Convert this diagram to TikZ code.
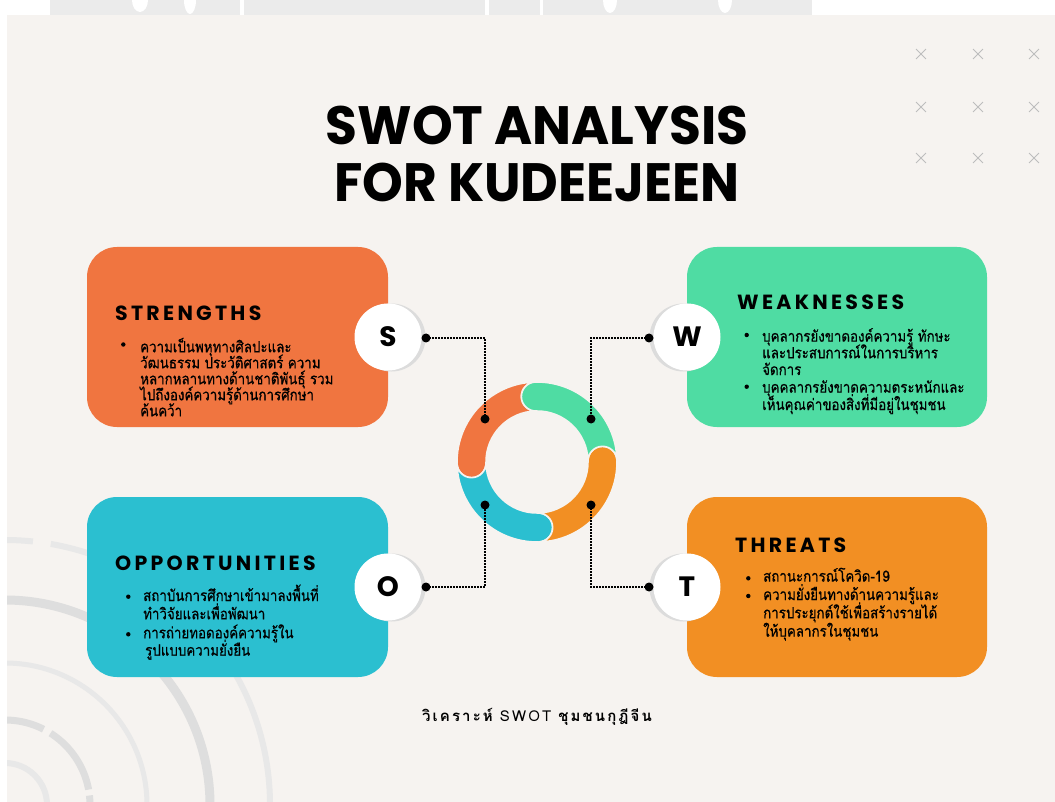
\documentclass[tikz,border=0pt]{standalone}
\usepackage{fontspec}
\setmainfont{Poppins}
\newfontfamily\thai[Script=Thai,FakeStretch=0.86,FakeBold=0.6]{Loma}
\newfontfamily\thaisp[Script=Thai,LetterSpace=14]{Loma}
\newfontfamily\headfont[LetterSpace=16]{Poppins}
\newfontfamily\titlefont{Poppins}
\usetikzlibrary{calc,shapes.misc}
\definecolor{bg}{HTML}{F6F3F0}
\definecolor{corange}{HTML}{F07540}
\definecolor{cgreen}{HTML}{4FDCA3}
\definecolor{ccyan}{HTML}{2BBFD0}
\definecolor{corangeb}{HTML}{F28F23}
\definecolor{decoA}{HTML}{DEDEDE}
\definecolor{decoB}{HTML}{E8E8E8}
\definecolor{xgray}{HTML}{BDBDBD}
\definecolor{shad}{HTML}{DCDCDC}
\definecolor{wm}{HTML}{EBEBEB}
\tikzset{
  swotbox/.style={rounded corners=30pt},
  lc/.style={circle,fill=white,minimum size=67pt,inner sep=0pt,font=\bfseries\fontsize{28}{28}\selectfont},
  head/.style={anchor=base west,inner sep=0pt,font=\headfont\bfseries\fontsize{20.5}{21}\selectfont},
  tline/.style={anchor=base west,inner sep=0pt,font=\thai\fontsize{15.5}{15.5}\selectfont},
  conn/.style={line width=1.6pt,dash pattern=on 1.6pt off 1.4pt},
  xmk/.style={draw=xgray,cross out,minimum size=9pt,inner sep=0pt,line width=0.9pt},
  titl/.style={anchor=base,inner sep=0pt,font=\titlefont\bfseries\fontsize{54}{56}\selectfont},
}
\newcommand\ringseg[3]{%
  \fill[#1,draw=bg,line width=1.6pt] ($(ringc)+(-#2:80)$)
    arc[start angle=-#2,end angle=-#2-180,radius=14.5]
    arc[start angle=-#2,end angle=-#3,radius=51]
    arc[start angle=-#3-180,end angle=-#3,radius=14.5]
    arc[start angle=-#3,end angle=-#2,radius=80] -- cycle;}
\begin{document}
\begin{tikzpicture}[x=1pt,y=-1pt]
\useasboundingbox (0,0) rectangle (1055,802);
\fill[white] (0,0) rectangle (1055,802);
% faint watermark above the card
\fill[wm] (50,0) rectangle (812,15);
\fill[white] (140,0) ellipse (8pt and 12pt);
\fill[white] (190,0) ellipse (6pt and 14pt);
\fill[white] (240,0) rectangle (244,15);
\fill[white] (485,0) rectangle (489,15);
\fill[white] (540,0) rectangle (543,15);
\fill[white] (610,0) ellipse (7pt and 13pt);
\fill[white] (725,0) ellipse (7pt and 13pt);
% card
\fill[bg] (7,15) rectangle (1055,802);
% decorative arcs
\begin{scope}
\clip (7,15) rectangle (1055,802);
\coordinate (dc) at (5,805);
\draw[decoB,line width=6pt] ($(dc)+(-90:42)$) arc[start angle=-90,end angle=0,radius=42];
\draw[decoA,line width=7pt,dash pattern=on 40pt off 8pt on 70pt off 6pt] ($(dc)+(-90:85)$) arc[start angle=-90,end angle=0,radius=85];
\draw[decoB,line width=5pt] ($(dc)+(-90:142)$) arc[start angle=-90,end angle=0,radius=142];
\draw[decoA,line width=9pt,dash pattern=on 150pt off 3pt on 200pt off 3pt] ($(dc)+(-90:205)$) arc[start angle=-90,end angle=0,radius=205];
\draw[decoB,line width=6pt,dash pattern=on 28pt off 18pt on 200pt off 6pt on 200pt off 6pt] ($(dc)+(-90:265)$) arc[start angle=-90,end angle=0,radius=265];
\end{scope}
% crosses
\foreach \cx/\cy [count=\i] in {921/54,978/54,1034/54,921/107,978/107,1034/107,921/158,978/158,1034/158}
  \node[xmk] (x\i) at (\cx,\cy) {};
% title
\node[titl] (title1) at (537,145) {\scalebox{0.96}[1]{SWOT ANALYSIS}};
\node[titl] (title2) at (537,202) {\scalebox{0.96}[1]{FOR KUDEEJEEN}};
% boxes
\fill[corange,swotbox] (87,247) rectangle (388,427);
\fill[cgreen,swotbox] (687,247) rectangle (987,427);
\fill[ccyan,swotbox] (87,497) rectangle (388,677);
\fill[corangeb,swotbox] (687,497) rectangle (987,677);
% headings
\node[head] (sh) at (115,320) {STRENGTHS};
\node[head] (wh) at (737,310) {WEAKNESSES};
\node[head] (oh) at (115,570) {OPPORTUNITIES};
\node[head] (th) at (735,552) {THREATS};
% S text
\fill (123.3,344.5) circle (2.2pt);
\node[tline] (s1) at (140,352.3) {ความเป็นพหุทางศิลปะและ};
\node[tline] (s2) at (140,368.3) {วัฒนธรรม ประวัติศาสตร์ ความ};
\node[tline] (s3) at (140,384.3) {หลากหลานทางด้านชาติพันธุ์ รวม};
\node[tline] (s4) at (140,400.3) {ไปถึงองค์ความรู้ด้านการศึกษา};
\node[tline] (s5) at (140,416.3) {ค้นคว้า};
% W text
\fill (746.7,335) circle (2.2pt);
\fill (746.7,386.7) circle (2.2pt);
\node[tline] (w1) at (762,341.7) {บุคลากรยังขาดองค์ความรู้ ทักษะ};
\node[tline] (w2) at (762,358.3) {และประสบการณ์ในการบริหาร};
\node[tline] (w3) at (762,375) {จัดการ};
\node[tline] (w4) at (762,392.7) {บุคคลากรยังขาดความตระหนักและ};
\node[tline] (w5) at (762,410) {เห็นคุณค่าของสิ่งที่มีอยู่ในชุมชน};
% O text
\fill (128.3,596.7) circle (2.2pt);
\fill (128.3,634.3) circle (2.2pt);
\node[tline] (o1) at (143,601) {สถาบันการศึกษาเข้ามาลงพื้นที่};
\node[tline] (o2) at (143,619.3) {ทำวิจัยและเพื่อพัฒนา};
\node[tline] (o3) at (143,638.3) {การถ่ายทอดองค์ความรู้ใน};
\node[tline] (o4) at (145,655.7) {รูปแบบความยั่งยืน};
% T text
\fill (748.3,578.3) circle (2.2pt);
\fill (748.3,596) circle (2.2pt);
\node[tline] (t1) at (763,581.7) {สถานะการณ์โควิด-19};
\node[tline] (t2) at (763,600) {ความยั่งยืนทางด้านความรู้และ};
\node[tline] (t3) at (763,618.3) {การประยุกต์ใช้เพื่อสร้างรายได้};
\node[tline] (t4) at (763,636.7) {ให้บุคลากรในชุมชน};
% ring
\coordinate (ringc) at (537,462);
\ringseg{corange}{91}{181}
\ringseg{ccyan}{181}{271}
\ringseg{corangeb}{271}{361}
\ringseg{cgreen}{1}{91}
% letter circles
\coordinate (scp) at (388,337);
\coordinate (wcp) at (687,337);
\coordinate (ocp) at (388,587);
\coordinate (tcp) at (687,587);
\fill[shad] ($(scp)+(3.5,0.5)$) circle (34pt);
\fill[shad] ($(wcp)+(-3.5,0.5)$) circle (34pt);
\fill[shad] ($(ocp)+(3.5,0.5)$) circle (34pt);
\fill[shad] ($(tcp)+(-3.5,0.5)$) circle (34pt);
\node[lc] (sc) at (scp) {S};
\node[lc] (wc) at (wcp) {W};
\node[lc] (oc) at (ocp) {O};
\node[lc] (tc) at (tcp) {T};
% connectors
\coordinate (sdot) at (426,338);
\coordinate (scor) at (485,338);
\coordinate (sin) at (485,419);
\coordinate (wdot) at (649,338);
\coordinate (wcor) at (591,338);
\coordinate (win) at (591,419);
\coordinate (odot) at (426,587);
\coordinate (ocor) at (485,587);
\coordinate (oin) at (485,505);
\coordinate (tdot) at (649,587);
\coordinate (tcor) at (591,587);
\coordinate (tin) at (591,505);
\draw[conn] (sdot) -- (scor) -- (sin);
\draw[conn] (wdot) -- (wcor) -- (win);
\draw[conn] (odot) -- (ocor) -- (oin);
\draw[conn] (tdot) -- (tcor) -- (tin);
\foreach \p in {sdot,sin,wdot,win,odot,oin,tdot,tin}
  \fill (\p) circle (4.5pt);
% caption
\node[anchor=base,inner sep=0pt,font=\thaisp\bfseries\fontsize{15}{15}\selectfont] (cap) at (537,721) {วิเคราะห์ {\mdseries SWOT} ชุมชนกุฎีจีน};
\end{tikzpicture}
\end{document}
